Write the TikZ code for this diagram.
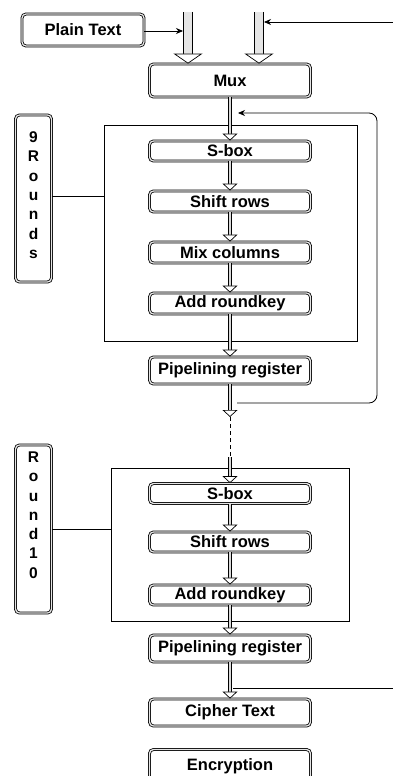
\documentclass[tikz,border=0pt]{standalone}
\usepackage{fontspec}
\setmainfont{Liberation Sans}
\usetikzlibrary{arrows.meta,calc}
\begin{document}
\begin{tikzpicture}[x=1pt,y=-1pt,
  box/.style={draw, double=gray!20, double distance=1.3pt, line width=0.8pt, rounded corners=4pt,
    minimum width=161pt, inner sep=0pt, font=\bfseries\fontsize{16.5}{19}\selectfont},
  lbox/.style={draw, double=gray!20, double distance=1.3pt, line width=0.8pt, rounded corners=4pt,
    minimum width=36pt, inner sep=0pt},
  letters/.style={font=\bfseries\fontsize{15.5}{19.3}\selectfont, align=center, inner sep=0pt},
  frame/.style={draw, line width=0.8pt, inner sep=0pt},
  flow/.style={double=gray!30, double distance=2.4pt, line width=0.7pt,
    -{Triangle[open, fill=white, width=15pt, length=7pt, line width=0.7pt]}},
  bigflow/.style={double=gray!20, double distance=8pt, line width=0.7pt,
    -{Triangle[open, fill=white, width=29pt, length=10pt, line width=0.7pt]}},
  thin/.style={line width=0.8pt},
  tip/.style={-{Stealth[length=7pt,width=6pt]}}
]
\useasboundingbox (0,0) rectangle (393,776);
% frames
\node[frame, minimum width=253pt, minimum height=216pt] (big1) at (230.5,233) {};
\node[frame, minimum width=238pt, minimum height=153pt] (big2) at (230,544.5) {};
% boxes
\node[box, minimum width=122pt, minimum height=32pt] (plain) at (83,30) {Plain Text};
\node[box, minimum height=33pt] (mux) at (230,80.5) {Mux};
\node[box, minimum height=20pt] (sbox1) at (230,151) {S-box};
\node[box, minimum height=21pt] (shift1) at (230,201.5) {Shift rows};
\node[box, minimum height=21pt] (mix) at (230,252.5) {Mix columns};
\node[box, minimum height=21pt] (add1) at (230,303.5) {Add roundkey};
\node[box, minimum height=27pt] (pr1) at (230,370.5) {Pipelining register};
\node[box, minimum height=20pt] (sbox2) at (230,493.5) {S-box};
\node[box, minimum height=20pt] (shift2) at (230,542) {Shift rows};
\node[box, minimum height=20pt] (add2) at (230,595) {Add roundkey};
\node[box, minimum height=27pt] (pr2) at (230,648.5) {Pipelining register};
\node[box, minimum height=27pt] (cipher) at (230,712.5) {Cipher Text};
\node[box, minimum height=33pt] (encr) at (230,766) {Encryption};
% label boxes
\node[lbox, minimum height=167pt,
  label={[letters, anchor=north, yshift=-17pt]north:{9\\R\\o\\u\\n\\d\\s}}] (lab1) at (33.5,198.5) {};
\node[lbox, minimum height=168pt,
  label={[letters, anchor=north, yshift=-7pt]north:{R\\o\\u\\n\\d\\1\\0}}] (lab2) at (33.5,529) {};
\draw[thin] (lab1.east |- 0,196) -- (big1.west |- 0,196);
\draw[thin] (lab2.east) -- (big2.west |- lab2.east);
% coordinates
\coordinate (inA) at (188,12);
\coordinate (inB) at (259,12);
\coordinate (keyin) at (393,22);
\coordinate (fbin) at (237,403);
\coordinate (fbtip) at (238,113);
\coordinate (d1) at (230,417);
\coordinate (d2) at (230,457);
\coordinate (outR) at (393,688);
\coordinate (outL) at (233,688);
% top arrows
\draw[bigflow] (inA) -- (inA |- mux.north);
\draw[bigflow] (inB) -- (inB |- mux.north);
\draw[thin, tip] (plain.east |- 0,31) -- (183,31);
\draw[thin, tip] (keyin) -- (264,22);
% flow
\draw[flow] (mux.south) -- (sbox1.north);
\draw[flow] (sbox1.south) -- (shift1.north);
\draw[flow] (shift1.south) -- (mix.north);
\draw[flow] (mix.south) -- (add1.north);
\draw[flow] (add1.south) -- (pr1.north);
\draw[flow] (pr1.south) -- (d1);
\draw[thin, dashed, dash pattern=on 4pt off 3pt] (d1) -- (d2);
\draw[flow] (d2) -- (sbox2.north);
\draw[flow] (sbox2.south) -- (shift2.north);
\draw[flow] (shift2.south) -- (add2.north);
\draw[flow] (add2.south) -- (pr2.north);
\draw[flow] (pr2.south) -- (cipher.north);
% feedback
\draw[thin, tip, rounded corners=8pt] (fbin) -- (377,403) -- (377,113) -- (fbtip);
\draw[thin] (outR) -- (outL);
\end{tikzpicture}
\end{document}
